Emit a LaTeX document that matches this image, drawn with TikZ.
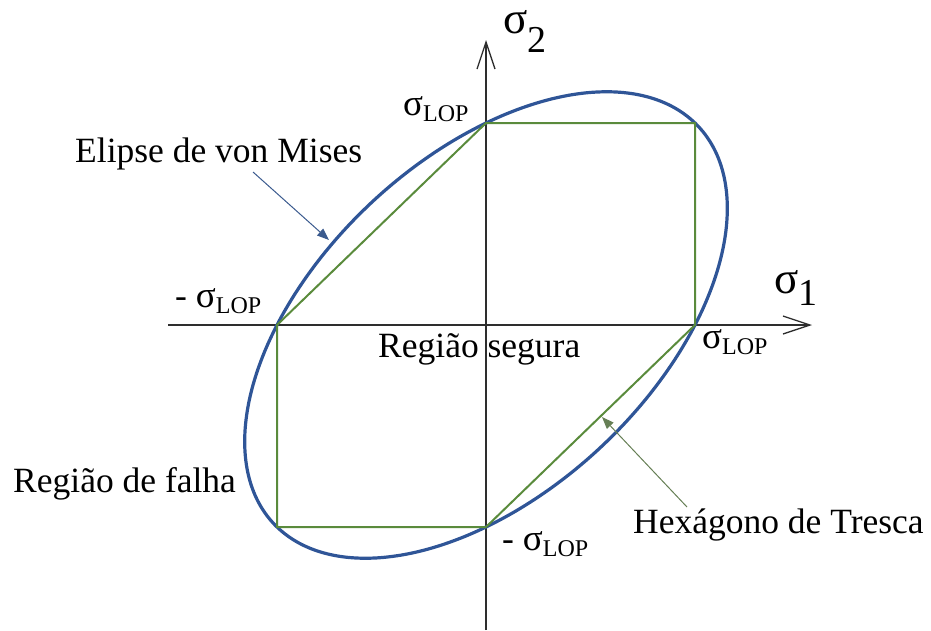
\documentclass[tikz,border=0pt]{standalone}
\usepackage{fontspec}
\setmainfont{Liberation Serif}
\usetikzlibrary{arrows.meta}
\definecolor{vmblue}{HTML}{2F5597}
\definecolor{trgreen}{HTML}{5A8B3C}
\definecolor{axisgray}{HTML}{2E2E2E}
\definecolor{vmarrow}{HTML}{3A5A8E}
\definecolor{trarrow}{HTML}{667F55}
\newcommand{\lblfont}{\fontsize{35.5}{40}\selectfont}
\newcommand{\mysigma}[1]{{\fontsize{37}{40}\selectfont σ}\raisebox{-6pt}{\fontsize{24}{28}\selectfont #1}}
\newcommand{\bigsigma}[2]{{\fontsize{45}{50}\selectfont σ}\raisebox{-#2}{\fontsize{38}{40}\selectfont #1}}
\begin{document}
\begin{tikzpicture}[x=1pt,y=-1pt,
  axis/.style={draw=axisgray, line width=1.3pt, -{Straight Barb[length=27pt,width=18pt,line width=1.3pt]}},
  vonmises/.style={draw=vmblue, line width=3.2pt},
  tresca/.style={draw=trgreen, line width=2pt, line join=round},
  lbl/.style={inner sep=0pt, anchor=base west, font=\lblfont},
  callvm/.style={draw=vmarrow, line width=1pt, -{Triangle[length=12pt,width=9pt]}},
  calltr/.style={draw=trarrow, line width=1pt, -{Triangle[length=12pt,width=9pt]}, color=trarrow}]
\useasboundingbox (0,0) rectangle (931,630);
% origin and axis ends
\coordinate (O) at (486,325);
\coordinate (xs) at (168,325);
\coordinate (xe) at (812,325);
\coordinate (ys) at (486,630);
\coordinate (ye) at (486,40);
% hexagon vertices
\coordinate (h1) at (486,123);
\coordinate (h2) at (695,123);
\coordinate (h3) at (695,325);
\coordinate (h4) at (486,527);
\coordinate (h5) at (277,527);
\coordinate (h6) at (277,325);
% axes
\draw[axis] (xs) -- (xe);
\draw[axis] (ys) -- (ye);
% von Mises ellipse
\draw[vonmises] plot[domain=0:360, samples=180, smooth, variable=\t]
  ({486+209*(cos(\t)-sin(\t)/sqrt(3))}, {325-202*(cos(\t)+sin(\t)/sqrt(3))}) -- cycle;
% Tresca hexagon
\draw[tresca] (h1) -- (h2) -- (h3) -- (h4) -- (h5) -- (h6) -- cycle;
% labels
\node[lbl] (lvm) at (75,162) {Elipse de von Mises};
\node[lbl] (lfalha) at (13,492) {Região de falha};
\node[lbl] (ltr) at (633,533) {Hexágono de Tresca};
\node[lbl] (lseg) at (378,357) {Região segura};
\node[lbl] (stop) at (403,115) {\mysigma{LOP}};
\node[lbl] (sright) at (702,348) {\mysigma{LOP}};
\node[lbl] (sleft) at (175,307) {- \mysigma{LOP}};
\node[lbl] (sbot) at (502,550) {- \mysigma{LOP}};
\node[lbl] (s1) at (774,293) {\bigsigma{1}{12pt}};
\node[lbl] (s2) at (503,33) {\bigsigma{2}{19pt}};
% callout arrows
\coordinate (avs) at (253,172);
\coordinate (ave) at (329,240);
\coordinate (ats) at (687,507);
\coordinate (ate) at (602,417);
\draw[callvm] (avs) -- (ave);
\draw[calltr] (ats) -- (ate);
\end{tikzpicture}
\end{document}
